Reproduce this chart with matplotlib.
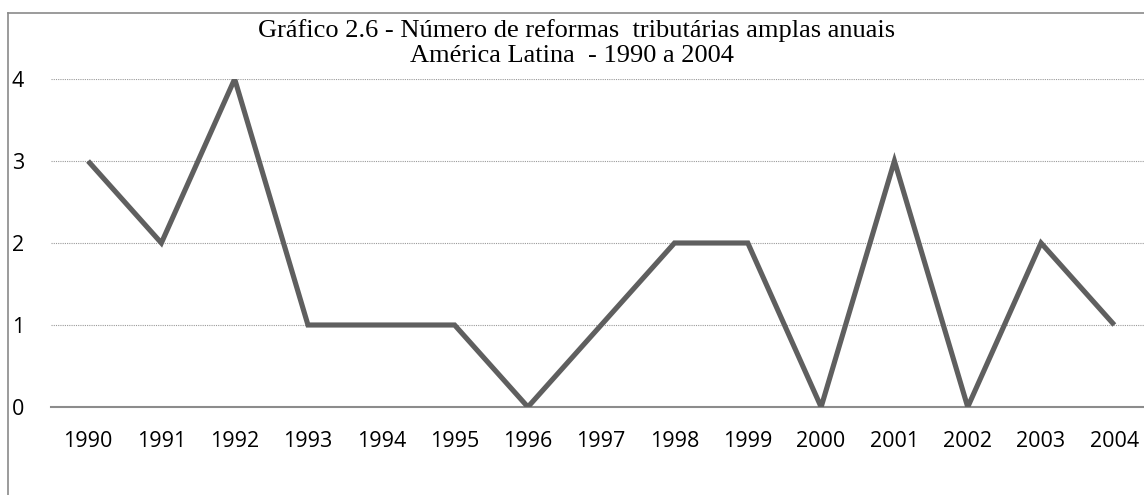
import matplotlib
matplotlib.use("Agg")
import matplotlib.pyplot as plt
from matplotlib.lines import Line2D

years = ["1990", "1991", "1992", "1993", "1994", "1995", "1996", "1997",
         "1998", "1999", "2000", "2001", "2002", "2003", "2004"]
reformas = [3, 2, 4, 1, 1, 1, 0, 1, 2, 2, 0, 3, 0, 2, 1]
yticks = [0, 1, 2, 3, 4]
title1 = "Gráfico 2.6 - Número de reformas  tributárias amplas anuais"
title2 = "América Latina  - 1990 a 2004"

W, H = 1144, 495
fig = plt.figure(figsize=(W / 100, H / 100), dpi=100)
fig.patch.set_facecolor("white")

def px(x, y):
    return x / W, 1 - y / H

# chart border (left and top visible)
fig.add_artist(Line2D([8 / W, 8 / W], [0, 1 - 13 / H], transform=fig.transFigure,
                      color="#8a8a8a", lw=1.2))
fig.add_artist(Line2D([8 / W, 1], [1 - 13 / H, 1 - 13 / H], transform=fig.transFigure,
                      color="#8a8a8a", lw=1.2))

left = 51.4 / W
right = 1151 / W
bottom = 1 - 407 / H
top = 1 - 79 / H
ax = fig.add_axes([left, bottom, right - left, top - bottom])
x = list(range(len(years)))
ax.plot(x, reformas, color="#5f5f5f", lw=3.7, solid_joinstyle="miter",
        solid_capstyle="butt", zorder=3)
ax.set_xlim(-0.5, len(years) - 0.5)
ax.set_ylim(0, 4)
ax.set_yticks(yticks)
ax.set_yticklabels([str(v) for v in yticks])
ax.set_xticks(x)
ax.set_xticklabels(years)
for s in ax.spines.values():
    s.set_visible(False)
for v in yticks[1:]:
    ax.axhline(v, color="#9a9a9a", lw=0.8, ls=(0, (1, 1)), zorder=1)
ax.axhline(0, color="#8c8c8c", lw=1.5, zorder=2, clip_on=False)
ax.tick_params(axis="both", length=0)
ax.tick_params(axis="y", pad=28.5)
ax.tick_params(axis="x", pad=17)
for lab in ax.get_yticklabels():
    lab.set_horizontalalignment("left")
    lab.set_fontfamily("Open Sans")
    lab.set_fontsize(15.5)
for lab in ax.get_xticklabels():
    lab.set_fontfamily("Open Sans")
    lab.set_fontsize(15.5)
ax.set_facecolor("none")

fig.text(*px(577, 37), title1, ha="center", va="baseline",
         family="Liberation Serif", fontsize=19)
fig.text(*px(572, 62), title2, ha="center", va="baseline",
         family="Liberation Serif", fontsize=19)

fig.savefig("out.png", dpi=100, facecolor="white")
